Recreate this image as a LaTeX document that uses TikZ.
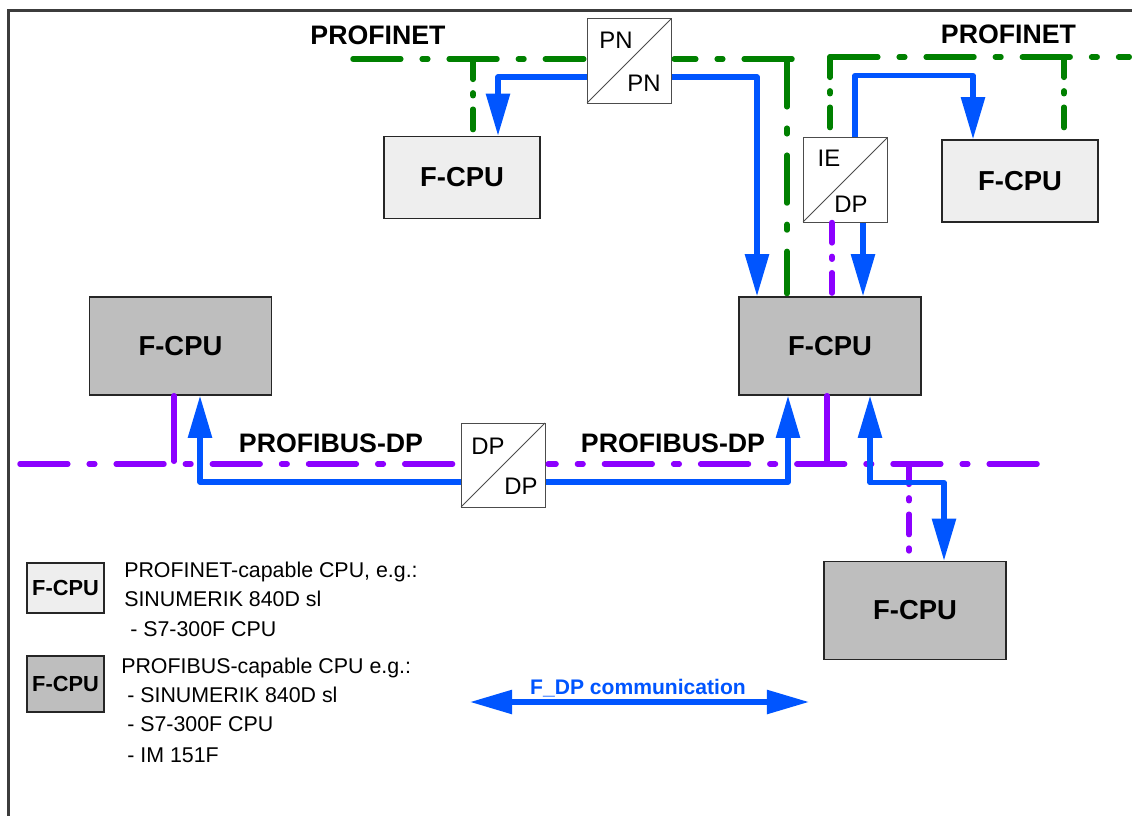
\documentclass[tikz,border=0pt]{standalone}
\usepackage{fontspec}
\setmainfont{Liberation Sans}
\usepackage{tikz}
\usetikzlibrary{arrows.meta,calc}
\definecolor{cNet}{RGB}{0,128,0}
\definecolor{cBus}{RGB}{140,0,255}
\definecolor{cFdp}{RGB}{0,85,255}
\definecolor{cLight}{RGB}{238,238,238}
\definecolor{cDark}{RGB}{190,190,190}
\definecolor{cFrame}{RGB}{60,60,60}

\begin{document}
\begin{tikzpicture}[x=0.025cm, y=-0.025cm,
  box/.style={draw=black!85, line width=1pt, inner sep=0pt,
              font=\fontsize{19.5}{22}\selectfont\bfseries},
  pncpu/.style={box, fill=cLight, minimum width=3.9cm, minimum height=2.05cm},
  dpcpu/.style={box, fill=cDark, minimum width=4.55cm, minimum height=2.45cm},
  key/.style={box, minimum width=1.925cm, font=\fontsize{15.5}{17}\selectfont\bfseries},
  cpl/.style={draw=black!70, line width=0.7pt, fill=white, minimum size=2.1cm, inner sep=0pt,
              path picture={\draw[line width=0.6pt] (path picture bounding box.south west)
                -- (path picture bounding box.north east);}},
  cpltxt/.style={font=\fontsize{17}{20}\selectfont, inner sep=0pt},
  busname/.style={font=\fontsize{19}{22}\selectfont\bfseries, inner sep=0pt},
  keytxt/.style={font=\fontsize{15.2}{17}\selectfont, anchor=base west, inner sep=0pt},
  wire/.style={line width=3.9pt, line cap=round, shorten >=1.95pt},
  pnbus/.style={wire, cNet, dash pattern=on 34pt off 15.2pt on 4pt off 15.2pt},
  dpbus/.style={wire, cBus, dash pattern=on 34pt off 15.2pt on 4pt off 15.2pt},
  pnstub/.style={wire, cNet, dash pattern=on 14.5pt off 9.6pt on 2pt off 9.6pt},
  dpstub/.style={wire, cBus, dash pattern=on 14.5pt off 9.6pt on 2pt off 9.6pt},
  dpline/.style={wire, cBus},
  arr/.style={line width=3.7pt, cFdp, line join=round, -{Triangle[length=30pt, width=16.5pt]}},
  arrs/.style={arr, {Triangle[length=30pt, width=16.5pt]}-{Triangle[length=30pt, width=16.5pt]}}]
\useasboundingbox (0,0) rectangle (1132,816);
\draw[cFrame, line width=1.5pt] (8.5,816) -- (8.5,10.5) -- (1132,10.5);

% CPUs and couplers
\node[pncpu] (pnA) at (462,177.5) {F-CPU};
\node[pncpu] (pnB) at (1020,181) {F-CPU};
\node[dpcpu] (dpA) at (180.5,346) {F-CPU};
\node[dpcpu] (dpB) at (830,346) {F-CPU};
\node[dpcpu] (dpC) at (915,610.5) {F-CPU};
\node[cpl] (pnpn) at (629,61) {};
\node[cpl] (iedp) at (845,180) {};
\node[cpl] (dpdp) at (503,465) {};
\node[cpltxt] (pnpn-a) at (616,40) {PN};
\node[cpltxt] (pnpn-b) at (644,83) {PN};
\node[cpltxt] (iedp-a) at (829,158) {IE};
\node[cpltxt] (iedp-b) at (851,204) {DP};
\node[cpltxt] (dpdp-a) at (488,446) {DP};
\node[cpltxt] (dpdp-b) at (521,486) {DP};

% bus names
\node[busname] (pnname1) at (378,35.5) {PROFINET};
\node[busname] (pnname2) at (1008.5,34.5) {PROFINET};
\node[busname] (dpname1) at (331,443) {PROFIBUS-DP};
\node[busname] (dpname2) at (673,443) {PROFIBUS-DP};

% PROFINET
\coordinate (pnL) at (353,59);
\coordinate (pnR) at (792,59);
\coordinate (pnC) at (830,57);
\coordinate (pnE) at (1132,57);
\coordinate (tA) at (473,59);
\coordinate (tB) at (787,59);
\coordinate (tC) at (1064,57);
\draw[pnbus] (pnL) -- (pnL -| pnpn.west);
\draw[pnbus] (pnR) -- (pnR -| pnpn.east);
\draw[pnbus] (pnC) -- (pnE);
\draw[pnstub] (tA) -- (tA |- pnA.north);
\draw[pnbus] (tB) -- (tB |- dpB.north);
\draw[pnstub] (pnC) -- (pnC |- iedp.north);
\draw[pnstub] (tC) -- (tC |- pnB.north);

% PROFIBUS-DP
\coordinate (dpL) at (20,464);
\coordinate (dpE) at (1037,464);
\coordinate (dpAt) at (174,464);
\coordinate (dpBt) at (827,464);
\coordinate (dpCt) at (909,464);
\coordinate (ieP) at ($(iedp.south)+(-13,0)$);
\draw[dpbus] (dpL) -- (dpL -| dpdp.west);
\draw[dpbus] (dpE) -- (dpE -| dpdp.east);
\draw[dpline] (dpA.south -| dpAt) -- (dpAt);
\draw[dpline] (dpB.south -| dpBt) -- (dpBt);
\draw[dpstub] (dpCt) -- (dpCt |- dpC.north);
\draw[dpstub] (ieP) -- (ieP |- dpB.north);

% F_DP communication
\draw[arr] ($(pnpn.west)+(0,16)$) -| ($(pnA.north)+(36,0)$);
\draw[arr] ($(pnpn.east)+(0,16)$) -| ($(dpB.north)+(-73,0)$);
\draw[arr] ($(iedp.north)+(10,0)$) -- ++(0,-62) -| ($(pnB.north)+(-47,0)$);
\draw[arr] ($(iedp.south)+(18,0)$) -- ($(dpB.north)+(33,0)$);
\draw[arr] ($(dpdp.west)+(0,17)$) -| ($(dpA.south)+(19.5,0)$);
\draw[arr] ($(dpdp.east)+(0,17)$) -| ($(dpB.south)+(-42,0)$);
\draw[arrs] ($(dpB.south)+(40,0)$) -- ++(0,87) -| ($(dpC.north)+(29,0)$);

% legend
\node[key, fill=cLight, minimum height=1.25cm] (keyPN) at (65.5,588) {F-CPU};
\node[key, fill=cDark, minimum height=1.4cm] (keyDP) at (65.5,684) {F-CPU};
\node[keytxt] (kt1) at (124,577) {PROFINET-capable CPU, e.g.:};
\node[keytxt] (kt2) at (124,606) {SINUMERIK 840D sl};
\node[keytxt] (kt3) at (130,636) {- S7-300F CPU};
\node[keytxt] (kt4) at (121,673) {PROFIBUS-capable CPU e.g.:};
\node[keytxt] (kt5) at (127,702) {- SINUMERIK 840D sl};
\node[keytxt] (kt6) at (127,731) {- S7-300F CPU};
\node[keytxt] (kt7) at (127,762) {- IM 151F};
\coordinate (fdpL) at (470,702);
\coordinate (fdpR) at (809,702);
\draw[arrs] (fdpL) -- (fdpR);
\node[font=\fontsize{15}{17}\selectfont\bfseries, text=cFdp, anchor=base, inner sep=0pt]
  (fdpname) at (638,694) {F\_DP communication};
\end{tikzpicture}
\end{document}
